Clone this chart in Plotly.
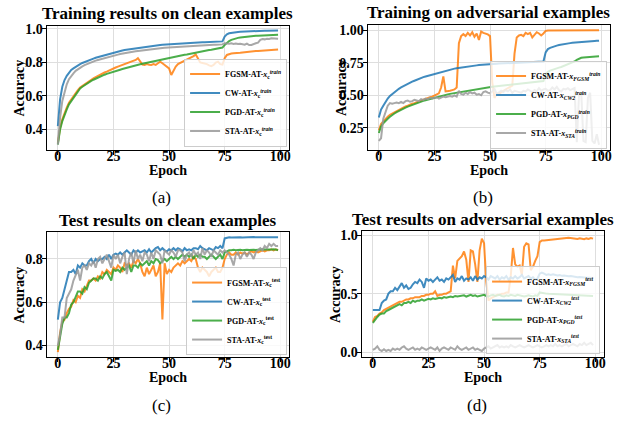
import plotly.graph_objects as go

EPOCHS = list(range(100))

# ---------- (a) Training results on clean examples ----------
A_FGSM = [0.32, 0.41, 0.46, 0.50, 0.53, 0.56, 0.58, 0.60, 0.62, 0.635,
          0.65, 0.66, 0.67, 0.68, 0.69, 0.70, 0.705, 0.712, 0.72, 0.727,
          0.733, 0.74, 0.745, 0.752, 0.757, 0.765, 0.77, 0.775, 0.78, 0.787,
          0.79, 0.795, 0.80, 0.805, 0.81, 0.815, 0.826, 0.81, 0.788, 0.785,
          0.79, 0.787, 0.785, 0.79, 0.785, 0.795, 0.805, 0.795, 0.785, 0.775,
          0.765, 0.725, 0.755, 0.775, 0.79, 0.797, 0.80, 0.808, 0.815, 0.822,
          0.83, 0.838, 0.848, 0.82, 0.80, 0.797, 0.795, 0.79, 0.783, 0.778,
          0.785, 0.80, 0.805, 0.79, 0.787, 0.825, 0.845, 0.85, 0.853, 0.855,
          0.855, 0.857, 0.858, 0.86, 0.862, 0.863, 0.864, 0.866, 0.867, 0.868,
          0.869, 0.87, 0.871, 0.872, 0.874, 0.875, 0.877, 0.876, 0.877, 0.878]
A_CW = [0.42, 0.58, 0.655, 0.695, 0.72, 0.74, 0.755, 0.765, 0.775, 0.785,
        0.79, 0.797, 0.803, 0.808, 0.813, 0.818, 0.823, 0.828, 0.832, 0.836,
        0.84, 0.844, 0.848, 0.852, 0.856, 0.86, 0.863, 0.866, 0.869, 0.872,
        0.875, 0.877, 0.88, 0.882, 0.885, 0.887, 0.889, 0.891, 0.893, 0.895,
        0.897, 0.898, 0.90, 0.901, 0.903, 0.904, 0.905, 0.906, 0.907, 0.908,
        0.91, 0.909, 0.912, 0.913, 0.913, 0.914, 0.915, 0.915, 0.916, 0.917,
        0.918, 0.918, 0.919, 0.92, 0.92, 0.921, 0.921, 0.922, 0.922, 0.923,
        0.924, 0.924, 0.925, 0.925, 0.926, 0.955, 0.968, 0.974, 0.977, 0.979,
        0.981, 0.982, 0.983, 0.984, 0.985, 0.986, 0.987, 0.987, 0.988, 0.988,
        0.989, 0.989, 0.99, 0.99, 0.99, 0.991, 0.991, 0.991, 0.991, 0.991]
A_PGD = [0.31, 0.40, 0.45, 0.49, 0.52, 0.55, 0.57, 0.59, 0.61, 0.63,
         0.645, 0.655, 0.665, 0.675, 0.683, 0.69, 0.697, 0.704, 0.71, 0.716,
         0.722, 0.727, 0.732, 0.737, 0.741, 0.745, 0.749, 0.753, 0.757, 0.761,
         0.765, 0.769, 0.772, 0.776, 0.779, 0.782, 0.786, 0.789, 0.792, 0.795,
         0.798, 0.801, 0.804, 0.807, 0.81, 0.813, 0.816, 0.819, 0.822, 0.825,
         0.828, 0.83, 0.833, 0.836, 0.838, 0.841, 0.843, 0.846, 0.848, 0.851,
         0.854, 0.856, 0.859, 0.861, 0.864, 0.866, 0.869, 0.871, 0.874, 0.876,
         0.879, 0.881, 0.884, 0.886, 0.889, 0.905, 0.918, 0.928, 0.935, 0.94,
         0.944, 0.947, 0.949, 0.951, 0.953, 0.955, 0.956, 0.957, 0.958, 0.959,
         0.96, 0.961, 0.962, 0.963, 0.963, 0.964, 0.964, 0.965, 0.965, 0.965]
A_STA = [0.31, 0.47, 0.57, 0.63, 0.67, 0.70, 0.72, 0.735, 0.75, 0.76,
         0.77, 0.777, 0.784, 0.79, 0.796, 0.801, 0.806, 0.811, 0.815, 0.819,
         0.823, 0.827, 0.831, 0.835, 0.838, 0.841, 0.844, 0.847, 0.85, 0.853,
         0.856, 0.858, 0.861, 0.863, 0.865, 0.867, 0.869, 0.871, 0.873, 0.875,
         0.877, 0.879, 0.88, 0.882, 0.883, 0.885, 0.886, 0.887, 0.888, 0.889,
         0.89, 0.891, 0.892, 0.893, 0.894, 0.895, 0.896, 0.897, 0.897, 0.898,
         0.899, 0.90, 0.90, 0.901, 0.902, 0.902, 0.903, 0.904, 0.904, 0.905,
         0.906, 0.906, 0.907, 0.907, 0.908, 0.915, 0.913, 0.912, 0.914, 0.911,
         0.913, 0.91, 0.912, 0.909, 0.906, 0.913, 0.904, 0.905, 0.912, 0.915,
         0.918, 0.935, 0.94, 0.938, 0.942, 0.94, 0.945, 0.943, 0.944, 0.942]

# ---------- (b) Training on adversarial examples ----------
B_FGSM = [0.23, 0.28, 0.30, 0.32, 0.335, 0.35, 0.36, 0.37, 0.38, 0.39,
          0.40, 0.41, 0.415, 0.42, 0.43, 0.435, 0.44, 0.447, 0.453, 0.46,
          0.465, 0.47, 0.478, 0.485, 0.49, 0.497, 0.505, 0.515, 0.56, 0.645,
          0.53, 0.53, 0.535, 0.54, 0.545, 0.56, 0.90, 0.955, 0.97, 0.955,
          0.98, 0.96, 0.985, 0.95, 0.975, 0.925, 0.99, 0.98, 0.975, 0.968,
          0.955, 0.60, 0.48, 0.51, 0.505, 0.525, 0.535, 0.545, 0.555, 0.56,
          0.575, 0.82, 0.945, 0.96, 0.965, 0.955, 0.98, 0.97, 0.98, 0.945,
          0.965, 0.985, 0.975, 0.96, 0.975, 0.995, 0.998, 0.998, 1.0, 1.0,
          1.0, 0.999, 1.0, 1.0, 0.999, 1.0, 1.0, 1.0, 0.999, 1.0,
          1.0, 1.0, 0.999, 1.0, 1.0, 1.0, 1.0, 0.999, 1.0, 1.0]
B_CW = [0.33, 0.39, 0.42, 0.45, 0.475, 0.495, 0.51, 0.525, 0.54, 0.55,
        0.56, 0.57, 0.58, 0.59, 0.597, 0.605, 0.612, 0.62, 0.627, 0.633,
        0.64, 0.645, 0.65, 0.655, 0.66, 0.665, 0.67, 0.675, 0.68, 0.685,
        0.69, 0.694, 0.698, 0.702, 0.705, 0.708, 0.711, 0.714, 0.717, 0.72,
        0.722, 0.724, 0.726, 0.728, 0.73, 0.732, 0.734, 0.735, 0.737, 0.738,
        0.74, 0.741, 0.742, 0.743, 0.744, 0.745, 0.746, 0.747, 0.748, 0.749,
        0.75, 0.75, 0.751, 0.752, 0.753, 0.753, 0.754, 0.755, 0.755, 0.756,
        0.757, 0.757, 0.758, 0.758, 0.76, 0.83, 0.855, 0.865, 0.872, 0.877,
        0.882, 0.886, 0.89, 0.893, 0.896, 0.899, 0.901, 0.903, 0.905, 0.907,
        0.909, 0.911, 0.913, 0.914, 0.915, 0.916, 0.917, 0.918, 0.919, 0.92]
B_PGD = [0.21, 0.26, 0.285, 0.305, 0.32, 0.335, 0.35, 0.36, 0.37, 0.38,
         0.39, 0.398, 0.405, 0.413, 0.42, 0.427, 0.433, 0.44, 0.446, 0.452,
         0.457, 0.462, 0.467, 0.472, 0.477, 0.482, 0.487, 0.491, 0.495, 0.499,
         0.503, 0.507, 0.511, 0.514, 0.518, 0.521, 0.525, 0.528, 0.531, 0.534,
         0.537, 0.54, 0.543, 0.546, 0.548, 0.551, 0.553, 0.556, 0.558, 0.561,
         0.563, 0.565, 0.567, 0.569, 0.571, 0.573, 0.575, 0.577, 0.579, 0.581,
         0.583, 0.585, 0.587, 0.589, 0.59, 0.592, 0.594, 0.596, 0.597, 0.599,
         0.601, 0.603, 0.605, 0.607, 0.61, 0.66, 0.68, 0.69, 0.697, 0.703,
         0.708, 0.713, 0.718, 0.724, 0.73, 0.738, 0.745, 0.752, 0.76, 0.772,
         0.782, 0.788, 0.791, 0.793, 0.795, 0.796, 0.797, 0.798, 0.799, 0.80]
B_STA = [0.15, 0.17, 0.32, 0.38, 0.42, 0.44, 0.435, 0.44, 0.445, 0.44,
         0.45, 0.44, 0.455, 0.46, 0.45, 0.455, 0.465, 0.46, 0.455, 0.47,
         0.465, 0.475, 0.47, 0.48, 0.475, 0.48, 0.485, 0.475, 0.48, 0.49,
         0.485, 0.49, 0.495, 0.49, 0.50, 0.49, 0.535, 0.51, 0.505, 0.52,
         0.51, 0.525, 0.515, 0.52, 0.505, 0.51, 0.50, 0.525, 0.53, 0.52,
         0.515, 0.53, 0.55, 0.51, 0.52, 0.535, 0.525, 0.54, 0.53, 0.545,
         0.52, 0.535, 0.53, 0.525, 0.52, 0.535, 0.53, 0.545, 0.535, 0.525,
         0.54, 0.53, 0.555, 0.535, 0.545, 0.55, 0.535, 0.54, 0.56, 0.545,
         0.565, 0.54, 0.53, 0.55, 0.545, 0.555, 0.54, 0.55, 0.555, 0.14,
         0.50, 0.52, 0.15, 0.14, 0.48, 0.52, 0.15, 0.13, 0.20, 0.12]

# ---------- (c) Test results on clean examples ----------
C_FGSM = [0.37, 0.46, 0.51, 0.52, 0.55, 0.57, 0.58, 0.61, 0.60, 0.63,
          0.62, 0.66, 0.65, 0.68, 0.70, 0.70, 0.71, 0.70, 0.72, 0.71,
          0.74, 0.73, 0.75, 0.74, 0.73, 0.76, 0.75, 0.77, 0.76, 0.74,
          0.78, 0.77, 0.78, 0.76, 0.79, 0.78, 0.80, 0.78, 0.74, 0.72,
          0.76, 0.73, 0.75, 0.77, 0.72, 0.74, 0.78, 0.52, 0.78, 0.73,
          0.75, 0.74, 0.76, 0.77, 0.78, 0.77, 0.79, 0.78, 0.79, 0.80,
          0.79, 0.81, 0.80, 0.76, 0.74, 0.76, 0.75, 0.74, 0.72, 0.74,
          0.75, 0.76, 0.74, 0.74, 0.76, 0.80, 0.82, 0.83, 0.82, 0.82,
          0.83, 0.82, 0.83, 0.825, 0.83, 0.82, 0.83, 0.835, 0.83, 0.835,
          0.83, 0.835, 0.84, 0.835, 0.84, 0.84, 0.845, 0.84, 0.845, 0.84]
C_CW = [0.52, 0.60, 0.62, 0.66, 0.69, 0.74, 0.74, 0.75, 0.73, 0.77,
        0.76, 0.78, 0.77, 0.77, 0.79, 0.80, 0.78, 0.80, 0.79, 0.80,
        0.80, 0.81, 0.80, 0.82, 0.80, 0.82, 0.825, 0.82, 0.83, 0.82,
        0.83, 0.84, 0.83, 0.82, 0.84, 0.83, 0.84, 0.83, 0.835, 0.84,
        0.83, 0.845, 0.83, 0.84, 0.85, 0.855, 0.84, 0.85, 0.84, 0.835,
        0.845, 0.84, 0.85, 0.84, 0.85, 0.845, 0.835, 0.85, 0.84, 0.845,
        0.84, 0.85, 0.85, 0.845, 0.86, 0.85, 0.845, 0.84, 0.85, 0.845,
        0.84, 0.855, 0.85, 0.86, 0.85, 0.895, 0.898, 0.90, 0.899, 0.90,
        0.90, 0.901, 0.90, 0.899, 0.90, 0.901, 0.90, 0.90, 0.901, 0.90,
        0.90, 0.901, 0.90, 0.90, 0.901, 0.90, 0.901, 0.902, 0.901, 0.90]
C_PGD = [0.38, 0.45, 0.50, 0.53, 0.53, 0.55, 0.59, 0.60, 0.63, 0.65,
         0.65, 0.64, 0.67, 0.66, 0.69, 0.70, 0.71, 0.71, 0.70, 0.72,
         0.71, 0.73, 0.74, 0.72, 0.70, 0.75, 0.745, 0.75, 0.74, 0.76,
         0.75, 0.76, 0.77, 0.74, 0.77, 0.77, 0.76, 0.78, 0.77, 0.78,
         0.79, 0.77, 0.79, 0.78, 0.80, 0.795, 0.78, 0.79, 0.80, 0.79,
         0.80, 0.81, 0.80, 0.81, 0.80, 0.81, 0.82, 0.81, 0.82, 0.81,
         0.82, 0.80, 0.82, 0.81, 0.82, 0.81, 0.81, 0.80, 0.81, 0.82,
         0.81, 0.80, 0.81, 0.82, 0.80, 0.83, 0.835, 0.84, 0.84, 0.842,
         0.84, 0.842, 0.843, 0.84, 0.842, 0.843, 0.842, 0.844, 0.843, 0.842,
         0.844, 0.843, 0.845, 0.844, 0.843, 0.845, 0.844, 0.845, 0.843, 0.842]
C_STA = [0.40, 0.45, 0.53, 0.53, 0.62, 0.64, 0.66, 0.70, 0.73, 0.75,
         0.70, 0.76, 0.77, 0.75, 0.78, 0.77, 0.79, 0.76, 0.80, 0.81,
         0.78, 0.80, 0.82, 0.79, 0.76, 0.82, 0.80, 0.82, 0.78, 0.81,
         0.83, 0.73, 0.80, 0.83, 0.78, 0.84, 0.80, 0.82, 0.79, 0.83,
         0.82, 0.79, 0.83, 0.80, 0.84, 0.83, 0.82, 0.78, 0.84, 0.83,
         0.82, 0.84, 0.83, 0.81, 0.84, 0.84, 0.83, 0.79, 0.82, 0.83,
         0.81, 0.84, 0.82, 0.83, 0.80, 0.85, 0.82, 0.84, 0.83, 0.81,
         0.84, 0.83, 0.82, 0.84, 0.83, 0.84, 0.83, 0.82, 0.80, 0.77,
         0.82, 0.83, 0.80, 0.82, 0.83, 0.81, 0.83, 0.82, 0.80, 0.83,
         0.84, 0.85, 0.84, 0.86, 0.85, 0.87, 0.86, 0.87, 0.86, 0.86]

# ---------- (d) Test results on adversarial examples ----------
D_FGSM = [0.26, 0.30, 0.31, 0.33, 0.34, 0.36, 0.37, 0.38, 0.39, 0.40,
          0.41, 0.42, 0.43, 0.43, 0.44, 0.45, 0.45, 0.46, 0.46, 0.47,
          0.47, 0.47, 0.48, 0.48, 0.49, 0.49, 0.50, 0.50, 0.52, 0.48,
          0.49, 0.49, 0.50, 0.50, 0.51, 0.52, 0.74, 0.63, 0.78, 0.80,
          0.82, 0.86, 0.79, 0.60, 0.87, 0.86, 0.75, 0.60, 0.87, 0.97,
          0.93, 0.60, 0.44, 0.46, 0.47, 0.48, 0.49, 0.49, 0.50, 0.50,
          0.51, 0.51, 0.65, 0.89, 0.75, 0.73, 0.74, 0.66, 0.90, 0.93,
          0.92, 0.70, 0.73, 0.78, 0.82, 0.94, 0.955, 0.955, 0.955, 0.958,
          0.96, 0.962, 0.965, 0.968, 0.97, 0.975, 0.978, 0.975, 0.977, 0.974,
          0.976, 0.972, 0.968, 0.974, 0.97, 0.965, 0.972, 0.968, 0.975, 0.97]
D_CW = [0.36, 0.36, 0.36, 0.36, 0.42, 0.44, 0.45, 0.50, 0.52, 0.52,
        0.55, 0.53, 0.56, 0.59, 0.55, 0.57, 0.54, 0.55, 0.58, 0.60,
        0.59, 0.62, 0.60, 0.55, 0.63, 0.61, 0.62, 0.60, 0.62, 0.64,
        0.61, 0.62, 0.60, 0.63, 0.62, 0.64, 0.66, 0.60, 0.63, 0.62,
        0.65, 0.61, 0.63, 0.62, 0.64, 0.61, 0.65, 0.62, 0.64, 0.63,
        0.65, 0.64, 0.62, 0.65, 0.64, 0.63, 0.65, 0.62, 0.64, 0.63,
        0.65, 0.62, 0.64, 0.63, 0.65, 0.63, 0.64, 0.66, 0.63, 0.64,
        0.65, 0.63, 0.64, 0.62, 0.63, 0.67, 0.68, 0.67, 0.66, 0.665,
        0.66, 0.665, 0.66, 0.655, 0.658, 0.652, 0.655, 0.65, 0.648, 0.65,
        0.645, 0.643, 0.64, 0.642, 0.638, 0.637, 0.635, 0.636, 0.634, 0.633]
D_PGD = [0.25, 0.28, 0.30, 0.32, 0.33, 0.33, 0.35, 0.36, 0.37, 0.38,
         0.39, 0.40, 0.41, 0.40, 0.42, 0.42, 0.43, 0.42, 0.44, 0.43,
         0.44, 0.44, 0.45, 0.44, 0.45, 0.455, 0.45, 0.46, 0.455, 0.46,
         0.465, 0.46, 0.47, 0.465, 0.47, 0.475, 0.47, 0.48, 0.475, 0.48,
         0.48, 0.485, 0.475, 0.48, 0.49, 0.48, 0.485, 0.475, 0.48, 0.49,
         0.49, 0.48, 0.475, 0.485, 0.49, 0.48, 0.485, 0.49, 0.48, 0.475,
         0.485, 0.48, 0.49, 0.485, 0.48, 0.49, 0.485, 0.48, 0.475, 0.48,
         0.485, 0.48, 0.475, 0.485, 0.48, 0.51, 0.505, 0.50, 0.50, 0.498,
         0.497, 0.495, 0.494, 0.493, 0.492, 0.49, 0.49, 0.489, 0.488, 0.487,
         0.486, 0.485, 0.485, 0.484, 0.483, 0.483, 0.482, 0.482, 0.481, 0.48]
D_STA = [0.02, 0.03, 0.05, 0.02, 0.01, 0.025, 0.01, 0.02, 0.01, 0.03,
         0.02, 0.03, 0.02, 0.04, 0.05, 0.03, 0.02, 0.03, 0.04, 0.02,
         0.03, 0.02, 0.04, 0.03, 0.02, 0.03, 0.04, 0.03, 0.02, 0.04,
         0.01, 0.03, 0.04, 0.03, 0.02, 0.04, 0.03, 0.02, 0.05, 0.03,
         0.02, 0.03, 0.04, 0.02, 0.03, 0.04, 0.02, 0.03, 0.02, 0.01,
         0.03, 0.04, 0.05, 0.03, 0.04, 0.05, 0.06, 0.04, 0.05, 0.04,
         0.05, 0.04, 0.06, 0.05, 0.04, 0.05, 0.06, 0.05, 0.04, 0.05,
         0.06, 0.05, 0.04, 0.05, 0.06, 0.05, 0.04, 0.05, 0.06, 0.05,
         0.06, 0.05, 0.07, 0.05, 0.06, 0.05, 0.06, 0.07, 0.05, 0.06,
         0.07, 0.06, 0.05, 0.07, 0.06, 0.08, 0.06, 0.07, 0.08, 0.06]

X_TICKS = [0, 25, 50, 75, 100]
Y_TICKS_A = [0.4, 0.6, 0.8, 1.0]
Y_TICKS_B = [0.25, 0.50, 0.75, 1.00]
Y_TICKS_C = [0.4, 0.6, 0.8]
Y_TICKS_D = [0.0, 0.5, 1.0]

TITLES = ["Training results on clean examples", "Training on adversarial examples",
          "Test results on clean examples", "Test results on adversarial examples"]
PANEL_LABELS = ["(a)", "(b)", "(c)", "(d)"]
METHODS = ["FGSM", "CW", "PGD", "STA"]

COL = {"FGSM": "#ff7f0e", "CW": "#1f77b4", "PGD": "#2ca02c", "STA": "#999999"}

SERIF = "Liberation Serif, Times New Roman, serif"

W, H = 625, 421

def px2fx(p):
    return p / W

def px2fy(p):
    return 1 - p / H

# panel boxes in pixels: left, right, top, bottom
BOXES = [(47, 290, 22, 148), (369, 612, 21, 148), (47, 290, 232, 359), (363, 606, 231, 359)]
YRANGES = [[0.28, 1.02], [0.083, 1.043], [0.347, 0.924], [-0.042, 1.034]]
YTICKS = [Y_TICKS_A, Y_TICKS_B, Y_TICKS_C, Y_TICKS_D]
YTICKTEXT = [["0.4", "0.6", "0.8", "1.0"], ["0.25", "0.50", "0.75", "1.00"],
             ["0.4", "0.6", "0.8"], ["0.0", "0.5", "1.0"]]

DATA = [
    {"FGSM": A_FGSM, "CW": A_CW, "PGD": A_PGD, "STA": A_STA},
    {"FGSM": B_FGSM, "CW": B_CW, "PGD": B_PGD, "STA": B_STA},
    {"FGSM": C_FGSM, "CW": C_CW, "PGD": C_PGD, "STA": C_STA},
    {"FGSM": D_FGSM, "CW": D_CW, "PGD": D_PGD, "STA": D_STA},
]

def label(panel, m):
    if panel == 0:
        return f"<b>{m}-AT-<i>x</i><sub>c</sub><sup><i>train</i></sup></b>"
    if panel == 2:
        return f"<b>{m}-AT-<i>x</i><sub>c</sub><sup>test</sup></b>"
    sub = {"FGSM": "FGSM", "CW": "CW2", "PGD": "PGD", "STA": "STA"}[m]
    sup = "train" if panel == 1 else "test"
    return f"<b>{m}-AT-<i>x</i><sub><i>{sub}</i></sub><sup><i>{sup}</i></sup></b>"

fig = go.Figure()
legend_names = ["legend", "legend2", "legend3", "legend4"]
LEG_POS = [(288, 145), (609, 147), (288, 357), (602, 356)]

for i in range(4):
    ax = "" if i == 0 else str(i + 1)
    for m in METHODS:
        fig.add_trace(go.Scatter(
            x=EPOCHS, y=DATA[i][m], mode="lines", name=label(i, m),
            line=dict(color=COL[m], width=2), opacity=0.85,
            xaxis="x" + ax, yaxis="y" + ax, legend=legend_names[i]))

layout = dict(width=W, height=H, margin=dict(l=0, r=0, t=0, b=0),
              plot_bgcolor="white", paper_bgcolor="white",
              font=dict(family=SERIF, color="black"))

axis_common = dict(showline=True, mirror=True, linecolor="black", linewidth=1.4,
                   ticks="outside", ticklen=4, tickwidth=1.2, tickcolor="black",
                   showgrid=True, gridcolor="#dedede", gridwidth=1, zeroline=False,
                   tickfont=dict(family=SERIF, size=14, color="black"))

annotations = []
for i, (l, r, t, b) in enumerate(BOXES):
    ax = "" if i == 0 else str(i + 1)
    layout["xaxis" + ax] = dict(axis_common, domain=[px2fx(l), px2fx(r)],
                                anchor="y" + ax, range=[-4.95, 103.95],
                                ticklabelstandoff=-11,
                                tickvals=X_TICKS, ticktext=[f"<b>{v}</b>" for v in X_TICKS])
    layout["yaxis" + ax] = dict(axis_common, domain=[px2fy(b), px2fy(t)],
                                anchor="x" + ax, range=YRANGES[i],
                                ticklabelstandoff=-4,
                                tickvals=YTICKS[i], ticktext=[f"<b>{s}</b>" for s in YTICKTEXT[i]])
    cx = (l + r) / 2
    annotations.append(dict(text=f"<b>{TITLES[i]}</b>", x=px2fx(cx), y=px2fy(t - 12),
                            xref="paper", yref="paper", showarrow=False,
                            xanchor="center", yanchor="middle",
                            font=dict(family=SERIF, size=17, color="black")))
    annotations.append(dict(text="<b>Epoch</b>", x=px2fx(cx), y=px2fy(b + 21),
                            xref="paper", yref="paper", showarrow=False,
                            xanchor="center", yanchor="middle",
                            font=dict(family=SERIF, size=14, color="black")))
    annotations.append(dict(text=PANEL_LABELS[i], x=px2fx(cx - 6), y=px2fy(b + 49),
                            xref="paper", yref="paper", showarrow=False,
                            xanchor="center", yanchor="middle",
                            font=dict(family=SERIF, size=17, color="black")))
    annotations.append(dict(text="<b>Accuracy</b>", x=px2fx(l - 27), y=px2fy((t + b) / 2),
                            xref="paper", yref="paper", showarrow=False, textangle=-90,
                            xanchor="center", yanchor="middle",
                            font=dict(family=SERIF, size=14, color="black")))
    lx, ly = LEG_POS[i]
    layout[legend_names[i]] = dict(x=px2fx(lx), y=px2fy(ly), xanchor="right", yanchor="bottom",
                                   bgcolor="rgba(255,255,255,0.8)", bordercolor="#cccccc",
                                   borderwidth=1, itemwidth=30, tracegroupgap=0,
                                   font=dict(family=SERIF, size=8, color="black"))

layout["annotations"] = annotations
layout["showlegend"] = True
fig.update_layout(**layout)
fig.write_html("out.html", config={"displayModeBar": False},
               post_script="document.body.style.margin='0';document.body.style.padding='0';")
